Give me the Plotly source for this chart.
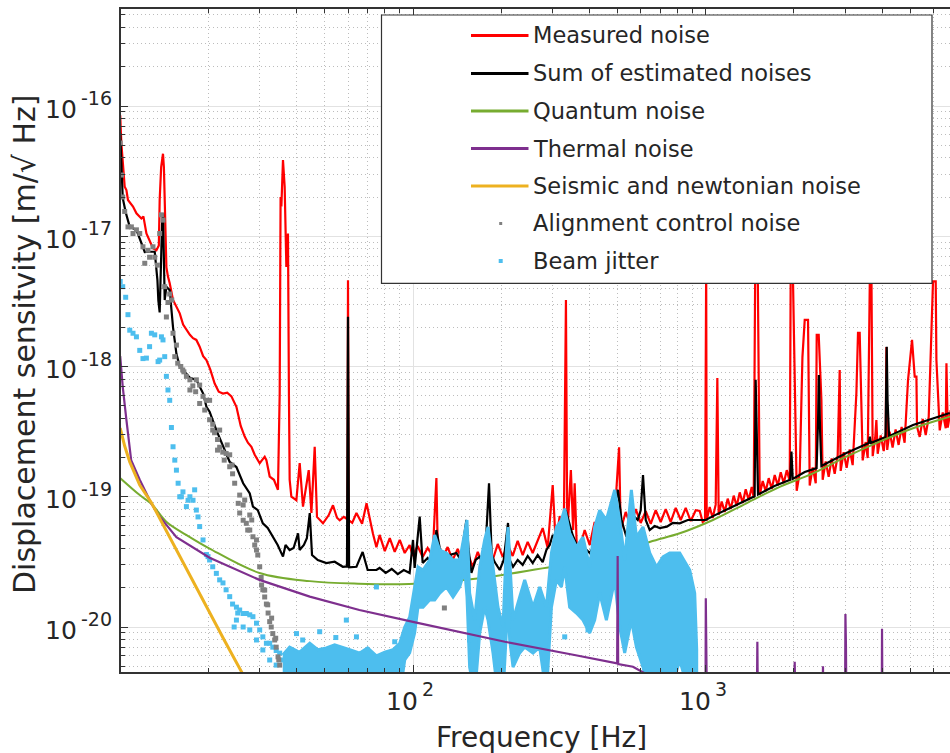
import math
import plotly.graph_objects as go

# ---------------- data ----------------
measured_f = [10.0, 10.09, 10.36, 10.5, 10.63, 11.06, 11.36, 11.81, 12.0, 12.29, 12.94, 13.3, 13.55, 13.64, 13.8, 14.0, 14.1, 14.19,
              14.38, 14.56, 14.76, 15.15, 15.56, 15.97, 16.4, 16.83, 17.3, 17.73, 18.2, 18.68, 19.2, 19.7, 20.3, 21.02, 21.7,
              22.44, 23.2, 23.98, 24.94, 25.8, 26.62, 27.3, 28.06, 28.8, 29.95, 31.15, 31.57, 32.4, 33.5, 34.58, 35.05, 35.3,
              35.52, 35.97, 36.45, 36.94, 37.41, 37.7, 37.91, 38.42, 39.96, 41.02, 42.1, 44.04, 44.98, 46.16, 47.0, 49.27,
              51.5, 53.3, 55.0, 56.19, 58.0, 59.24, 59.7, 59.98, 60.3, 62.0, 64.1, 67.0, 69.4, 73.0, 75.0,
              76.9, 80.1, 83.3, 86.6, 90.1, 93.7, 97.4, 99.8, 103.7, 107.9, 112.2, 116.7, 120.2, 121.5, 126.4, 131.3, 136.6,
              142.1, 147.8, 153.7, 159.9, 166.4, 173.1, 180.0, 187.2, 194.7, 202.5, 210.6, 219.0, 227.8, 236.9, 246.4, 256.3,
              266.6, 277.3, 288.4, 300.0, 307.4, 316.9, 327.1, 332.9, 336.3, 346.1, 352.3, 356.6, 362.3, 370.9, 385.8, 401.3,
              417.3, 434.1, 451.5, 469.6, 488.5, 505.6, 512.2, 532.6, 554.0, 576.2, 599.3, 623.4, 648.4, 674.4, 701.4, 729.5,
              758.8, 789.3, 820.9, 853.9, 888.2, 923.9,
              953.2, 976.0, 994, 998, 1003, 1007, 1031, 1055.6, 1080.8, 1095, 1106.6, 1133.1, 1160.2, 1187.9, 1216.3,
              1245.4, 1275.2, 1305.6, 1336.8, 1368.8, 1401.5, 1435.0, 1457.7, 1475, 1504, 1528, 1564.5, 1601.9, 1640.2,
              1679.4, 1719.5, 1760.6, 1802.7, 1845.8, 1889.9, 1935, 1950, 1981, 2012, 2044, 2093, 2138, 2177, 2234, 2264,
              2318, 2374, 2392, 2430, 2482, 2507, 2567, 2628, 2691, 2755, 2821, 2866, 2888, 2957, 3027, 3100, 3174, 3268,
              3310, 3354, 3399, 3434, 3516, 3572, 3637, 3677, 3715, 3789, 3824, 3864, 3957, 4051, 4115, 4138, 4164, 4244,
              4345, 4449, 4555, 4664, 4775, 4843, 4905, 5062, 5170, 5240, 5264, 5377, 5506, 5637, 5772, 5894, 5970, 6098,
              6132, 6294, 6444, 6598, 6635, 6702, 6862]
measured_v = [8.5e-17, 5.2e-17, 2.4e-17, 2.26e-17, 1.9e-17, 1.69e-17, 1.5e-17, 1.37e-17, 1.42e-17, 1.05e-17, 8.1e-18, 7.8e-18,
              8.5e-18, 1.9e-17, 3.4e-17, 4.3e-17, 3.4e-17, 1.9e-17,
              5.8e-18, 4.9e-18, 4.35e-18, 3.24e-18, 2.88e-18, 2.56e-18, 2.1e-18, 1.9e-18, 1.75e-18, 1.65e-18, 1.6e-18, 1.42e-18,
              1.2e-18, 1.12e-18, 9.5e-19, 7.4e-19, 6.4e-19,
              6.2e-19, 6.3e-19, 5.9e-19, 4.9e-19, 3.5e-19, 2.9e-19, 2.6e-19, 2.42e-19, 2.1e-19, 1.81e-19, 2.03e-19, 1.91e-19,
              1.43e-19, 1.35e-19, 1.13e-19, 6.2e-19, 2.0e-17,
              1.69e-17, 3.85e-17, 2.4e-17, 5.8e-18, 1.05e-17, 5.9e-19, 1.35e-19, 1.0e-19, 9.4e-20, 1.81e-19, 8.4e-20, 1.6e-19,
              7.5e-20, 2.42e-19, 7.0e-20, 6.25e-20,
              7.2e-20, 8.6e-20, 6.9e-20, 6.6e-20, 7.0e-20, 6.8e-20, 6.8e-20, 4.6e-18, 6.6e-20, 6.3e-20, 7.5e-20, 6.2e-20,
              8.9e-20, 5.2e-20, 4.1e-20,
              5.09e-20, 3.83e-20, 4.82e-20, 3.77e-20, 4.66e-20, 3.7e-20, 4.26e-20, 3.51e-20, 4.19e-20, 3.45e-20, 4.04e-20,
              3.51e-20, 1.39e-19, 3.9e-20, 3.39e-20, 4.11e-20, 3.27e-20,
              3.97e-20, 3.15e-20, 3.7e-20, 2.89e-20, 3.77e-20, 3.0e-20, 4.19e-20, 3.27e-20, 4.34e-20, 3.45e-20, 4.26e-20,
              3.51e-20, 4.58e-20, 3.57e-20, 4.5e-20, 3.7e-20,
              4.66e-20, 5.75e-20, 4.04e-20, 1.23e-19, 4.26e-20, 7.11e-20, 4.66e-20, 3.24e-18, 5.09e-20, 1.6e-19, 5.55e-20,
              1.27e-19, 4.26e-20, 4.04e-20, 5.55e-20, 4.26e-20,
              6.4e-20, 4.66e-20, 6.87e-20, 5.09e-20, 7.11e-20, 2.4e-19, 5.55e-20, 7.64e-20, 5.96e-20, 8.04e-20, 6.29e-20,
              7.76e-20, 6.18e-20, 7.88e-20, 6.4e-20, 8.04e-20,
              6.4e-20, 8.2e-20, 6.63e-20, 8.2e-20, 6.51e-20, 7.88e-20,
              7.77e-20, 6.40e-20, 6.63e-20, 6e-18, 6e-18, 6.57e-20, 8.34e-20, 6.87e-20, 8.70e-20, 8.16e-19, 7.24e-20,
              9.18e-20, 7.64e-20, 9.67e-20, 8.05e-20,
              1.02e-19, 8.49e-20, 1.08e-19, 8.95e-20, 1.14e-19, 9.44e-20, 1.19e-19, 9.82e-20, 6e-18, 6e-18, 1.035e-19,
              1.32e-19, 1.10e-19, 1.39e-19,
              1.15e-19, 1.47e-19, 1.22e-19, 1.54e-19, 1.27e-19, 1.60e-19, 1.32e-19, 6e-18, 6e-18, 7.47e-19, 1.11e-19,
              1.53e-19, 1.18e-18, 2.28e-18, 2.28e-18, 1.22e-19,
              1.68e-19, 1.27e-19, 1.75e-18, 1.75e-18, 5.53e-19, 1.35e-19, 1.87e-19, 1.42e-19, 1.97e-19, 1.50e-19, 2.08e-19,
              9.4e-19, 1.58e-19, 2.20e-19, 1.67e-19, 2.31e-19, 1.75e-19, 6.26e-19,
              1.81e-18, 1.81e-18, 5.53e-19, 1.90e-19, 2.63e-19, 1.98e-19, 6e-18, 6e-18, 2.05e-19, 2.84e-19, 3.88e-19,
              2.14e-19, 2.96e-19, 2.24e-19, 3.07e-19, 1.41e-18, 2.29e-19, 3.16e-19,
              2.39e-19, 3.29e-19, 2.50e-19, 3.44e-19, 2.60e-19, 5.25e-19, 7.87e-19, 1.6e-18, 8.35e-19, 8.35e-19, 3.45e-19,
              2.88e-19, 3.96e-19, 2.98e-19, 4.10e-19, 1.81e-18, 4.5e-18, 4.5e-18,
              1.12e-18, 3.23e-19, 4.44e-19, 3.35e-19, 1.06e-18, 3.39e-19, 4.63e-19]

sum_f = [10.0, 10.14, 10.2, 10.44, 10.78, 11.36, 11.66, 12.13, 12.6, 13.12, 13.4, 13.5, 13.64, 13.75, 13.9, 14.0, 14.1, 14.19,
         14.38, 14.76, 15.15, 15.56, 15.97, 17.3, 18.2, 19.2, 19.7, 20.2, 21.3, 22.44, 23.66, 24.94, 26.3, 27.7, 28.4, 29.5,
         30.7, 31.9, 33.2, 34.5, 35.97, 36.7, 37.9, 39.1, 40.5, 41.0, 42.4, 43.4, 44.4, 45.2, 47.3, 50.6, 54.0, 57.6, 59.5,
         59.98, 60.5, 64.1, 67.3, 70.0, 75.0,
         76.9, 80.7, 84.6, 88.7, 93.0, 97.4, 100.0, 101.3, 105.4, 107.9, 112.2, 116.7, 120.2, 123.4, 128.3, 133.4, 140.7,
         145.5, 152.2, 154.9, 158.3, 163.7, 169.0, 175.7, 181.8, 185.7, 190.1, 197.8, 204.1, 211.1, 213.9, 219.6, 227.8,
         236.9, 246.4, 256.3, 266.6, 277.3, 285.5, 293.0, 300.0, 308.9, 316.9, 327.1, 332.3, 342.8, 350.9, 362.3, 370.9,
         385.8, 401.3, 417.3, 434.1, 451.5, 469.6, 482.0, 501.0, 515.4, 535.4, 549.6, 562.9, 585.4, 599.3, 610.3, 623.4,
         643.3, 669.1, 695.9, 736, 771, 814.5, 868, 925,
         1000, 1058, 1207, 1376, 1468, 1480, 1491, 1508, 1716, 1942, 1961, 1981, 2177, 2390, 2418, 2433, 2456, 2482, 3021,
         3603, 3633, 3661, 4111, 4133, 4149, 4176, 4225, 5101, 6050, 6808]
sum_v = [6.2e-17, 3.23e-17, 1.97e-17, 1.53e-17, 1.18e-17, 1.12e-17, 9.7e-18, 7.57e-18, 7.6e-18, 7.6e-18, 4.6e-18, 3.2e-18,
         2.6e-18, 6.6e-18, 1.26e-17, 1.5e-17, 7.8e-18, 3.24e-18,
         4.1e-18, 3.85e-18, 2.0e-18, 1.25e-18, 1.0e-18, 8.2e-19, 7.9e-19, 6.2e-19, 4.9e-19, 4.5e-19, 3.25e-19, 2.42e-19,
         1.85e-19, 1.69e-19, 1.27e-19, 1.06e-19, 8.4e-20, 7.9e-20,
         6.25e-20, 5.75e-20, 4.93e-20, 4.26e-20, 3.47e-20, 4.26e-20, 3.9e-20, 4.04e-20, 5.24e-20, 3.9e-20, 4.26e-20,
         4.8e-20, 7.5e-20, 3.57e-20, 3.27e-20, 3.1e-20, 3.17e-20, 2.9e-20, 2.92e-20,
         2.41e-18, 2.87e-20, 2.9e-20, 3.77e-20, 2.74e-20, 2.74e-20,
         2.84e-20, 2.6e-20, 2.79e-20, 2.55e-20, 2.74e-20, 2.6e-20, 4.66e-20, 2.84e-20, 7.03e-20, 3.1e-20, 3.39e-20,
         2.94e-20, 5.55e-20, 4.04e-20, 3.15e-20, 3.57e-20, 3.7e-20,
         3.27e-20, 6.63e-20, 3.9e-20, 2.6e-20, 3.27e-20, 3.47e-20, 3.0e-20, 1.27e-19, 3.57e-20, 3.15e-20, 2.74e-20,
         3.27e-20, 6.29e-20, 3.27e-20, 2.9e-20, 3.27e-20,
         3.0e-20, 3.51e-20, 3.1e-20, 3.57e-20, 3.15e-20, 3.9e-20, 4.26e-20, 5.09e-20, 4.66e-20, 5.55e-20, 6.63e-20,
         7.88e-20, 6.07e-20, 5.09e-20, 4.26e-20, 3.9e-20,
         4.04e-20, 3.7e-20, 4.26e-20, 4.66e-20, 5.55e-20, 6.63e-20, 7.5e-20, 1.13e-19, 6.63e-20, 4.93e-20, 6.63e-20,
         7.24e-20, 6.63e-20, 7.88e-20, 1.47e-19, 6.63e-20,
         5.55e-20, 5.96e-20, 5.75e-20, 5.9e-20, 6.29e-20, 6.25e-20, 6.63e-20, 6.63e-20,
         6.63e-20, 7.1e-20, 8.2e-20, 9.44e-20, 1.01e-19, 7.9e-19, 2.73e-19, 1.04e-19, 1.21e-19, 1.35e-19, 2.22e-19,
         1.37e-19, 1.55e-19, 1.66e-19, 3.88e-19, 8.6e-19, 3.25e-19, 1.72e-19, 2.17e-19,
         2.59e-19, 2.89e-19, 2.59e-19, 2.87e-19, 9.96e-19, 1.42e-18, 5.53e-19, 2.92e-19, 3.56e-19, 4.03e-19, 4.4e-19]

quantum_f = [10.0, 11.66, 12.8, 14.4, 16.8, 20.2, 29.9, 44.4, 65.0, 97.0, 169.0, 300.0, 401.0, 643.0, 815.0, 1058.0, 1376.0,
             1788.0, 2323.0, 3021.0, 3926.0, 5101.0, 6808.0, 7000.0]
quantum_v = [1.39e-19, 1.03e-19, 8.8e-20, 6.4e-20, 5.1e-20, 4.0e-20, 2.6e-20, 2.25e-20, 2.15e-20, 2.14e-20, 2.37e-20,
             2.9e-20, 3.17e-20, 4.5e-20, 5.24e-20, 6.63e-20, 8.91e-20, 1.19e-19, 1.51e-19, 2.03e-19, 2.65e-19, 3.36e-19,
             4.12e-19, 4.2e-19]

thermal_f = [10.0, 10.2, 10.5, 10.9, 11.66, 12.8, 13.6, 15.56, 20.2, 29.9, 44.4, 65.6, 102.7, 206.0, 356.0, 480.0, 498.0,
             500.0, 502.0, 564.0, 620.0, 700.0, 998.0, 1000.0, 1004.0, 1007.0, 1495.0, 1500.0, 1505.0, 2005.0, 2012.0,
             2020.0, 2505.0, 2513.0, 2520.0, 2990.0, 2998.0, 3010.0, 3020.0, 3990.0, 3998.0, 4010.0, 7000.0]
thermal_v = [1.2e-18, 7.0e-19, 3.9e-19, 1.91e-19, 1.35e-19, 8.8e-20, 7.1e-20, 4.9e-20, 3.4e-20, 2.3e-20, 1.71e-20, 1.35e-20,
             1.08e-20, 7.7e-21, 6.1e-21, 5.3e-21, 5.25e-21, 3.5e-20, 5.2e-21, 4.95e-21, 4.4e-21, 4.0e-21, 3.6e-21, 1.66e-20,
             8.6e-21, 3.6e-21, 3.3e-21, 7.7e-21, 3.3e-21, 3.1e-21, 5.4e-21, 3.1e-21, 3.0e-21, 5.0e-21, 3.0e-21, 2.9e-21,
             1.26e-20, 7.5e-21, 2.9e-21, 2.7e-21, 9.7e-21, 2.7e-21, 2.5e-21]

seismic_f = [10.0, 10.36, 10.78, 11.66, 12.8, 14.2, 15.97, 17.97, 20.2, 22.75, 26.0, 28.0]
seismic_v = [3.37e-19, 2.45e-19, 1.85e-19, 1.23e-19, 8.95e-20, 5.75e-20, 3.5e-20, 2.1e-20, 1.28e-20, 7.8e-21, 4.5e-21,
             3.2e-21]

alignment_f = [10.0, 10.1, 10.2, 10.36, 10.63, 10.92, 11.06, 11.36, 11.66, 11.96, 12.13, 12.44, 12.6, 12.94, 13.12, 13.4,
               13.64, 13.83, 14.0, 14.19, 14.38, 14.56, 14.76, 15.0, 15.15, 15.36, 15.72, 16.1, 16.5, 16.83, 17.3, 17.7,
               18.1, 18.68, 19.18, 19.7, 20.2, 20.7, 21.0, 21.5, 21.86, 22.4, 23.0, 23.66, 24.2, 24.6, 25.3, 25.59, 26.3,
               26.96, 27.7, 28.4, 29.2, 29.95, 30.3, 30.7, 31.15, 31.57, 32.0, 32.4, 32.8, 33.2, 33.7, 34.1, 34.6, 35.05,
               26.3, 27.7, 29.2, 23.66, 21.86, 20.2, 18.2, 128.0,
               15.56, 16.35, 17.3, 18.68, 19.44, 20.7, 21.5, 22.66, 23.2, 24.1, 25.59, 26.62, 27.26, 28.13, 28.8, 29.5,
               30.4, 31.15, 31.9, 32.9, 33.97, 34.8]
alignment_v = [5.2e-17, 2.95e-17, 2.0e-17, 1.55e-17, 1.18e-17, 1.18e-17, 1.05e-17, 1.12e-17, 1.05e-17, 8.3e-18, 6.2e-18,
               7.8e-18, 6.9e-18, 8.3e-18, 6.9e-18, 6.0e-18,
               1.05e-17, 1.46e-17, 1.33e-17, 4.1e-18, 2.4e-18, 3.1e-18, 3.6e-18, 3.24e-18, 1.8e-18, 1.19e-18, 1.06e-18,
               1.0e-18, 9.1e-19, 8.4e-19, 7.9e-19, 7.1e-19,
               6.4e-19, 5.2e-19, 5.9e-19, 5.5e-19, 3.9e-19, 3.6e-19, 3.1e-19, 2.75e-19, 2.4e-19, 2.2e-19, 2.15e-19, 1.7e-19,
               1.5e-19, 1.27e-19, 8.9e-20, 7.5e-20, 6.6e-20,
               6.25e-20, 5.55e-20, 4.93e-20, 3.9e-20, 2.9e-20, 2.4e-20, 1.93e-20, 1.7e-20, 1.5e-20, 1.28e-20, 1.1e-20,
               1.0e-20, 8.9e-21, 7.95e-21, 7.0e-21, 5.9e-21, 5.1e-21,
               8.64e-20, 7.24e-20, 4.66e-20, 2.1e-19, 3.25e-19, 5.5e-19, 7.9e-19, 1.4e-20,
               1.46e-18, 9.4e-19, 6.6e-19, 7.2e-19, 4.63e-19, 3.25e-19, 2.28e-19, 1.91e-19, 2.5e-19, 1.75e-19, 1.03e-19,
               9.44e-20, 5.55e-20, 6.63e-20, 4.26e-20, 3.57e-20,
               2.1e-20, 1.92e-20, 1.48e-20, 1.17e-20, 8.2e-21, 5.6e-21]

jitter_f = [10.0, 10.2, 10.44, 10.63, 10.78, 11.06, 11.36, 11.66, 11.96, 12.29, 12.6, 12.78, 13.12, 13.47, 13.64, 13.83,
            14.0, 14.19, 14.38, 14.56, 14.76, 14.96, 15.15, 15.36, 15.56, 15.77, 15.97, 16.18, 16.38, 16.83, 17.05, 17.3,
            17.73, 17.96, 18.2, 18.44, 18.68, 19.18, 19.7, 19.95, 20.2, 20.7, 21.3, 21.86, 22.44, 23.0, 23.66, 24.2, 24.94,
            25.2, 25.59, 26.28, 26.96, 27.7, 28.4, 29.2, 29.95, 30.7, 31.57, 32.4, 33.2, 34.1, 35.05, 24.5, 40.0, 59.2,
            75.0, 24.94, 26.3, 27.7, 29.2, 30.7, 32.4, 34.1, 36.0, 42.0, 48.0, 54.5, 64.1, 86.6, 396.0, 329.7, 156.0]
jitter_v = [4.5e-18, 4.1e-18, 3.4e-18, 2.5e-18, 1.9e-18, 1.8e-18, 1.69e-18, 1.33e-18, 1.15e-18, 1.16e-18, 1.42e-18, 1.8e-18,
            1.75e-18, 1.09e-18, 1.12e-18, 1.69e-18,
            1.6e-18, 1.19e-18, 8.4e-19, 6.6e-19, 5.5e-19, 3.4e-19, 2.42e-19, 1.91e-19, 1.6e-19, 1.27e-19, 1.0e-19, 1.0e-19,
            1.09e-19, 8.4e-20, 9.4e-20, 1.0e-19,
            9.4e-20, 1.13e-19, 7.9e-20, 7.0e-20, 5.9e-20, 4.66e-20, 3.6e-20, 3.47e-20, 3.27e-20, 2.9e-20, 2.58e-20, 2.3e-20,
            2.18e-20, 1.93e-20, 1.71e-20, 1.5e-20, 1.42e-20,
            1.28e-20, 1.35e-20, 1.27e-20, 1.27e-20, 1.24e-20, 1.2e-20, 1.07e-20, 9.5e-21, 8.4e-21, 7.5e-21, 7.5e-21, 7.0e-21,
            6.6e-21, 6.3e-21, 1.0e-20, 8.9e-21, 1.13e-20,
            2.03e-20, 1.13e-20, 1.0e-20, 9.5e-21, 7.95e-21, 6.66e-21, 5.58e-21, 5.1e-21, 5.58e-21, 7.95e-21, 9.2e-21,
            8.3e-21, 8.4e-21, 7.7e-21, 9.5e-21, 8.4e-21, 7.95e-21]

# dense part of the beam-jitter cloud: spread (low..high) at each frequency
jitter_band_f = [35.9, 37.9, 41.0, 44.4, 47.3, 50.6, 54.0, 57.7, 60.8, 65.8, 70.0, 75.0, 80.1, 85.5, 90.1, 93.7, 97.4,
                 101.3, 104.0, 108.2, 114.0, 118.6, 123.4, 130.0, 137.0, 144.4, 150.2, 152.9, 156.1, 162.4, 169.0, 175.7,
                 180.4, 187.6, 195.1, 203.0, 207.3, 211.1, 213.9, 219.6, 231.4, 240.7, 257.0, 270.8, 285.5, 297.0, 308.9,
                 321.2, 329.7, 342.8, 361.4, 380.6, 401.3, 417.3, 434.1, 457.6, 488.5, 508.1, 528.4, 556.9, 579.4, 610.3,
                 643.3, 678.4, 714.2, 752.9, 814.5, 881.2, 916.5, 930.9]
jitter_band_hi = [6.1e-21, 7.0e-21, 6.4e-21, 7.5e-21, 6.7e-21, 6.9e-21, 7.3e-21, 7.0e-21, 6.7e-21, 6.3e-21, 6.9e-21, 6.0e-21,
                  6.4e-21, 6.7e-21, 7.5e-21, 1.0e-20, 1.19e-20,
                  2.03e-20, 2.89e-20, 2.74e-20, 3.27e-20, 5.09e-20, 3.9e-20, 3.7e-20, 3.27e-20, 3.27e-20, 5.55e-20, 6.63e-20,
                  1.82e-20, 1.13e-20, 2.89e-20, 4.66e-20,
                  5.86e-20, 2.89e-20, 1.42e-20, 1.0e-20, 3.27e-20, 5.86e-20, 3.27e-20, 1.13e-20, 1.7e-20, 2.3e-20, 1.42e-20,
                  2.03e-20, 1.42e-20, 3.7e-20, 5.86e-20,
                  6.63e-20, 8.1e-20, 5.27e-20, 4.11e-20, 4.91e-20, 2.89e-20, 5.86e-20, 7.88e-20, 6.63e-20, 1.13e-19, 6.63e-20,
                  3.27e-20, 1.13e-19, 4.91e-20, 5.86e-20,
                  3.7e-20, 2.89e-20, 3.45e-20, 3.7e-20, 3.7e-20, 2.74e-20, 1.82e-20, 6.7e-21]
jitter_band_lo = [3e-21, 3e-21, 3e-21, 3e-21, 3e-21, 3e-21, 3e-21, 3e-21, 3e-21, 3e-21, 3e-21, 3e-21, 3e-21, 3e-21, 3e-21,
                  5.58e-21, 6.32e-21,
                  8.99e-21, 1.42e-20, 1.42e-20, 1.61e-20, 1.61e-20, 1.82e-20, 2.03e-20, 1.7e-20, 2.03e-20, 2.74e-20, 1.7e-20,
                  4.93e-21, 3e-21, 8.99e-21, 1.42e-20,
                  1.13e-20, 6.32e-21, 3e-21, 3e-21, 7.95e-21, 1.61e-20, 7.95e-21, 4.93e-21, 6.32e-21, 7.02e-21, 6.32e-21,
                  7.02e-21, 3e-21, 1.42e-20, 2.3e-20,
                  2.03e-20, 2.89e-20, 1.42e-20, 1.28e-20, 1.13e-20, 8.99e-21, 1.13e-20, 1.82e-20, 1.13e-20, 2.3e-20, 1.0e-20,
                  6.32e-21, 1.13e-20, 7.02e-21, 4.93e-21,
                  3e-21, 3e-21, 3e-21, 3e-21, 5.58e-21, 3e-21, 6.32e-21, 3e-21]

legend_labels = ["Measured noise", "Sum of estimated noises", "Quantum noise", "Thermal noise",
                 "Seismic and newtonian noise", "Alignment control noise", "Beam jitter"]
y_tick_vals = [1e-20, 1e-19, 1e-18, 1e-17, 1e-16]
y_tick_exps = ["-20", "-19", "-18", "-17", "-16"]
x_tick_vals = [100, 1000]
x_tick_exps = ["2", "3"]

# ---------------- styles ----------------
RED, BLACK, GREEN, PURPLE, ORANGE = "#FF0000", "#000000", "#77AC30", "#7E2F8E", "#EDB120"
GREY, BLUE = "#808080", "#4DBEEE"
FONT = "DejaVu Sans"
TXT = "#262626"

W, H = 950, 753
ML, MR, MT, MB = 121, 0, 9, 81
PW, PH = W - ML - MR, H - MT - MB


def px_x(px):
    return (px - ML) / PW


def px_y(py):
    return (H - MB - py) / PH


fig = go.Figure()
fig.add_trace(go.Scatter(x=measured_f, y=measured_v, mode="lines", line=dict(color=RED, width=2.2), showlegend=False))
fig.add_trace(go.Scatter(x=sum_f, y=sum_v, mode="lines", line=dict(color=BLACK, width=2.2), showlegend=False))
fig.add_trace(go.Scatter(x=quantum_f, y=quantum_v, mode="lines", line=dict(color=GREEN, width=2, shape="spline"),
                         showlegend=False))
band_x = jitter_band_f + jitter_band_f[::-1]
band_y = jitter_band_hi + jitter_band_lo[::-1]
fig.add_trace(go.Scatter(x=band_x, y=band_y, mode="lines", fill="toself", fillcolor=BLUE,
                         line=dict(color=BLUE, width=3), showlegend=False))
fig.add_trace(go.Scatter(x=jitter_f, y=jitter_v, mode="markers",
                         marker=dict(symbol="square", size=5, color=BLUE, line=dict(width=0)), showlegend=False))
fig.add_trace(go.Scatter(x=alignment_f, y=alignment_v, mode="markers",
                         marker=dict(symbol="square", size=5, color=GREY, line=dict(width=0)), showlegend=False))
fig.add_trace(go.Scatter(x=thermal_f, y=thermal_v, mode="lines", line=dict(color=PURPLE, width=2.2), showlegend=False))
fig.add_trace(go.Scatter(x=seismic_f, y=seismic_v, mode="lines", line=dict(color=ORANGE, width=3), showlegend=False))

# minor ticks (2..9 in each decade)
x_minor = [k * 10 ** n for n in (1, 2, 3) for k in range(2, 10)]
y_minor = [k * 10.0 ** n for n in (-21, -20, -19, -18, -17, -16) for k in range(2, 10)]

axis_common = dict(
    type="log", showline=True, linecolor="#333333", linewidth=1.5,
    ticks="inside", ticklen=7, tickwidth=1, tickcolor="#333333",
    showgrid=True, gridcolor="#e2e2e2", gridwidth=1, zeroline=False, showticklabels=False,
)
minor_common = dict(tickmode="array", ticks="inside", ticklen=4, tickcolor="#333333",
                    showgrid=True, gridcolor="#bcbcbc", griddash="1px,3px", gridwidth=1)
fig.update_xaxes(**axis_common, range=[1.00273, 3.834], tickmode="array", tickvals=x_tick_vals,
                 mirror="ticks", minor=dict(tickvals=x_minor, **minor_common))
fig.update_yaxes(**axis_common, range=[-20.3455, -15.2553], tickmode="array", tickvals=y_tick_vals,
                 mirror=False, minor=dict(tickvals=y_minor, **minor_common))

annotations = []
# tick labels as base "10" + raised exponent
BASE_SIZE, EXP_SIZE = 25, 19
for v, e in zip(y_tick_vals, y_tick_exps):
    annotations.append(dict(text="10", xref="paper", yref="y", x=px_x(79), y=math.log10(v), yshift=-3,
                            xanchor="right", yanchor="middle", showarrow=False,
                            font=dict(family=FONT, size=BASE_SIZE, color=TXT)))
    annotations.append(dict(text=e, xref="paper", yref="y", x=px_x(79), y=math.log10(v), yshift=8,
                            xanchor="left", yanchor="middle", showarrow=False,
                            font=dict(family=FONT, size=EXP_SIZE, color=TXT)))
for v, e in zip(x_tick_vals, x_tick_exps):
    annotations.append(dict(text="10", xref="x", yref="paper", x=math.log10(v), y=px_y(701), xshift=7,
                            xanchor="right", yanchor="middle", showarrow=False,
                            font=dict(family=FONT, size=BASE_SIZE, color=TXT)))
    annotations.append(dict(text=e, xref="x", yref="paper", x=math.log10(v), y=px_y(689), xshift=7,
                            xanchor="left", yanchor="middle", showarrow=False,
                            font=dict(family=FONT, size=EXP_SIZE, color=TXT)))

# ---------------- legend (drawn box) ----------------
shapes = [dict(type="rect", xref="paper", yref="paper", x0=px_x(381.5), x1=px_x(932), y0=px_y(283.3), y1=px_y(15),
               line=dict(color="#333333", width=1.2), fillcolor="white", layer="above")]
row_px = [35.5, 73.5, 111, 148.5, 186, 223.5, 261]
line_colors = [RED, BLACK, GREEN, PURPLE, ORANGE]
for i, lab in enumerate(legend_labels):
    yp = px_y(row_px[i])
    if i < 5:
        shapes.append(dict(type="line", xref="paper", yref="paper", x0=px_x(471), x1=px_x(528.5), y0=yp, y1=yp,
                           line=dict(color=line_colors[i], width=3), layer="above"))
    else:
        col = GREY if i == 5 else BLUE
        half = 1.5 if i == 5 else 2
        shapes.append(dict(type="rect", xref="paper", yref="paper", xsizemode="pixel", ysizemode="pixel",
                           xanchor=px_x(500.7), yanchor=yp, x0=-half, x1=half, y0=-half, y1=half,
                           line=dict(width=0), fillcolor=col, layer="above"))
    annotations.append(dict(text=lab, xref="paper", yref="paper", x=px_x(530.5), y=yp, xanchor="left",
                            yanchor="middle", showarrow=False, font=dict(family=FONT, size=22.5, color=TXT)))

annotations.append(dict(text="Frequency [Hz]", xref="paper", yref="paper", x=px_x(541), y=px_y(737),
                        xanchor="center", yanchor="middle", showarrow=False,
                        font=dict(family=FONT, size=28, color=TXT)))
annotations.append(dict(text="Displacement sensitvity [m/\u221a Hz]", xref="paper", yref="paper", x=px_x(24),
                        y=px_y(345), xanchor="center", yanchor="middle", textangle=-90, showarrow=False,
                        font=dict(family=FONT, size=30, color=TXT)))

fig.update_layout(
    width=W, height=H, margin=dict(l=ML, r=MR, t=MT, b=MB, pad=0),
    paper_bgcolor="white", plot_bgcolor="white",
    font=dict(family=FONT, color=TXT),
    showlegend=False, shapes=shapes, annotations=annotations,
)

fig.write_html("out.html")
